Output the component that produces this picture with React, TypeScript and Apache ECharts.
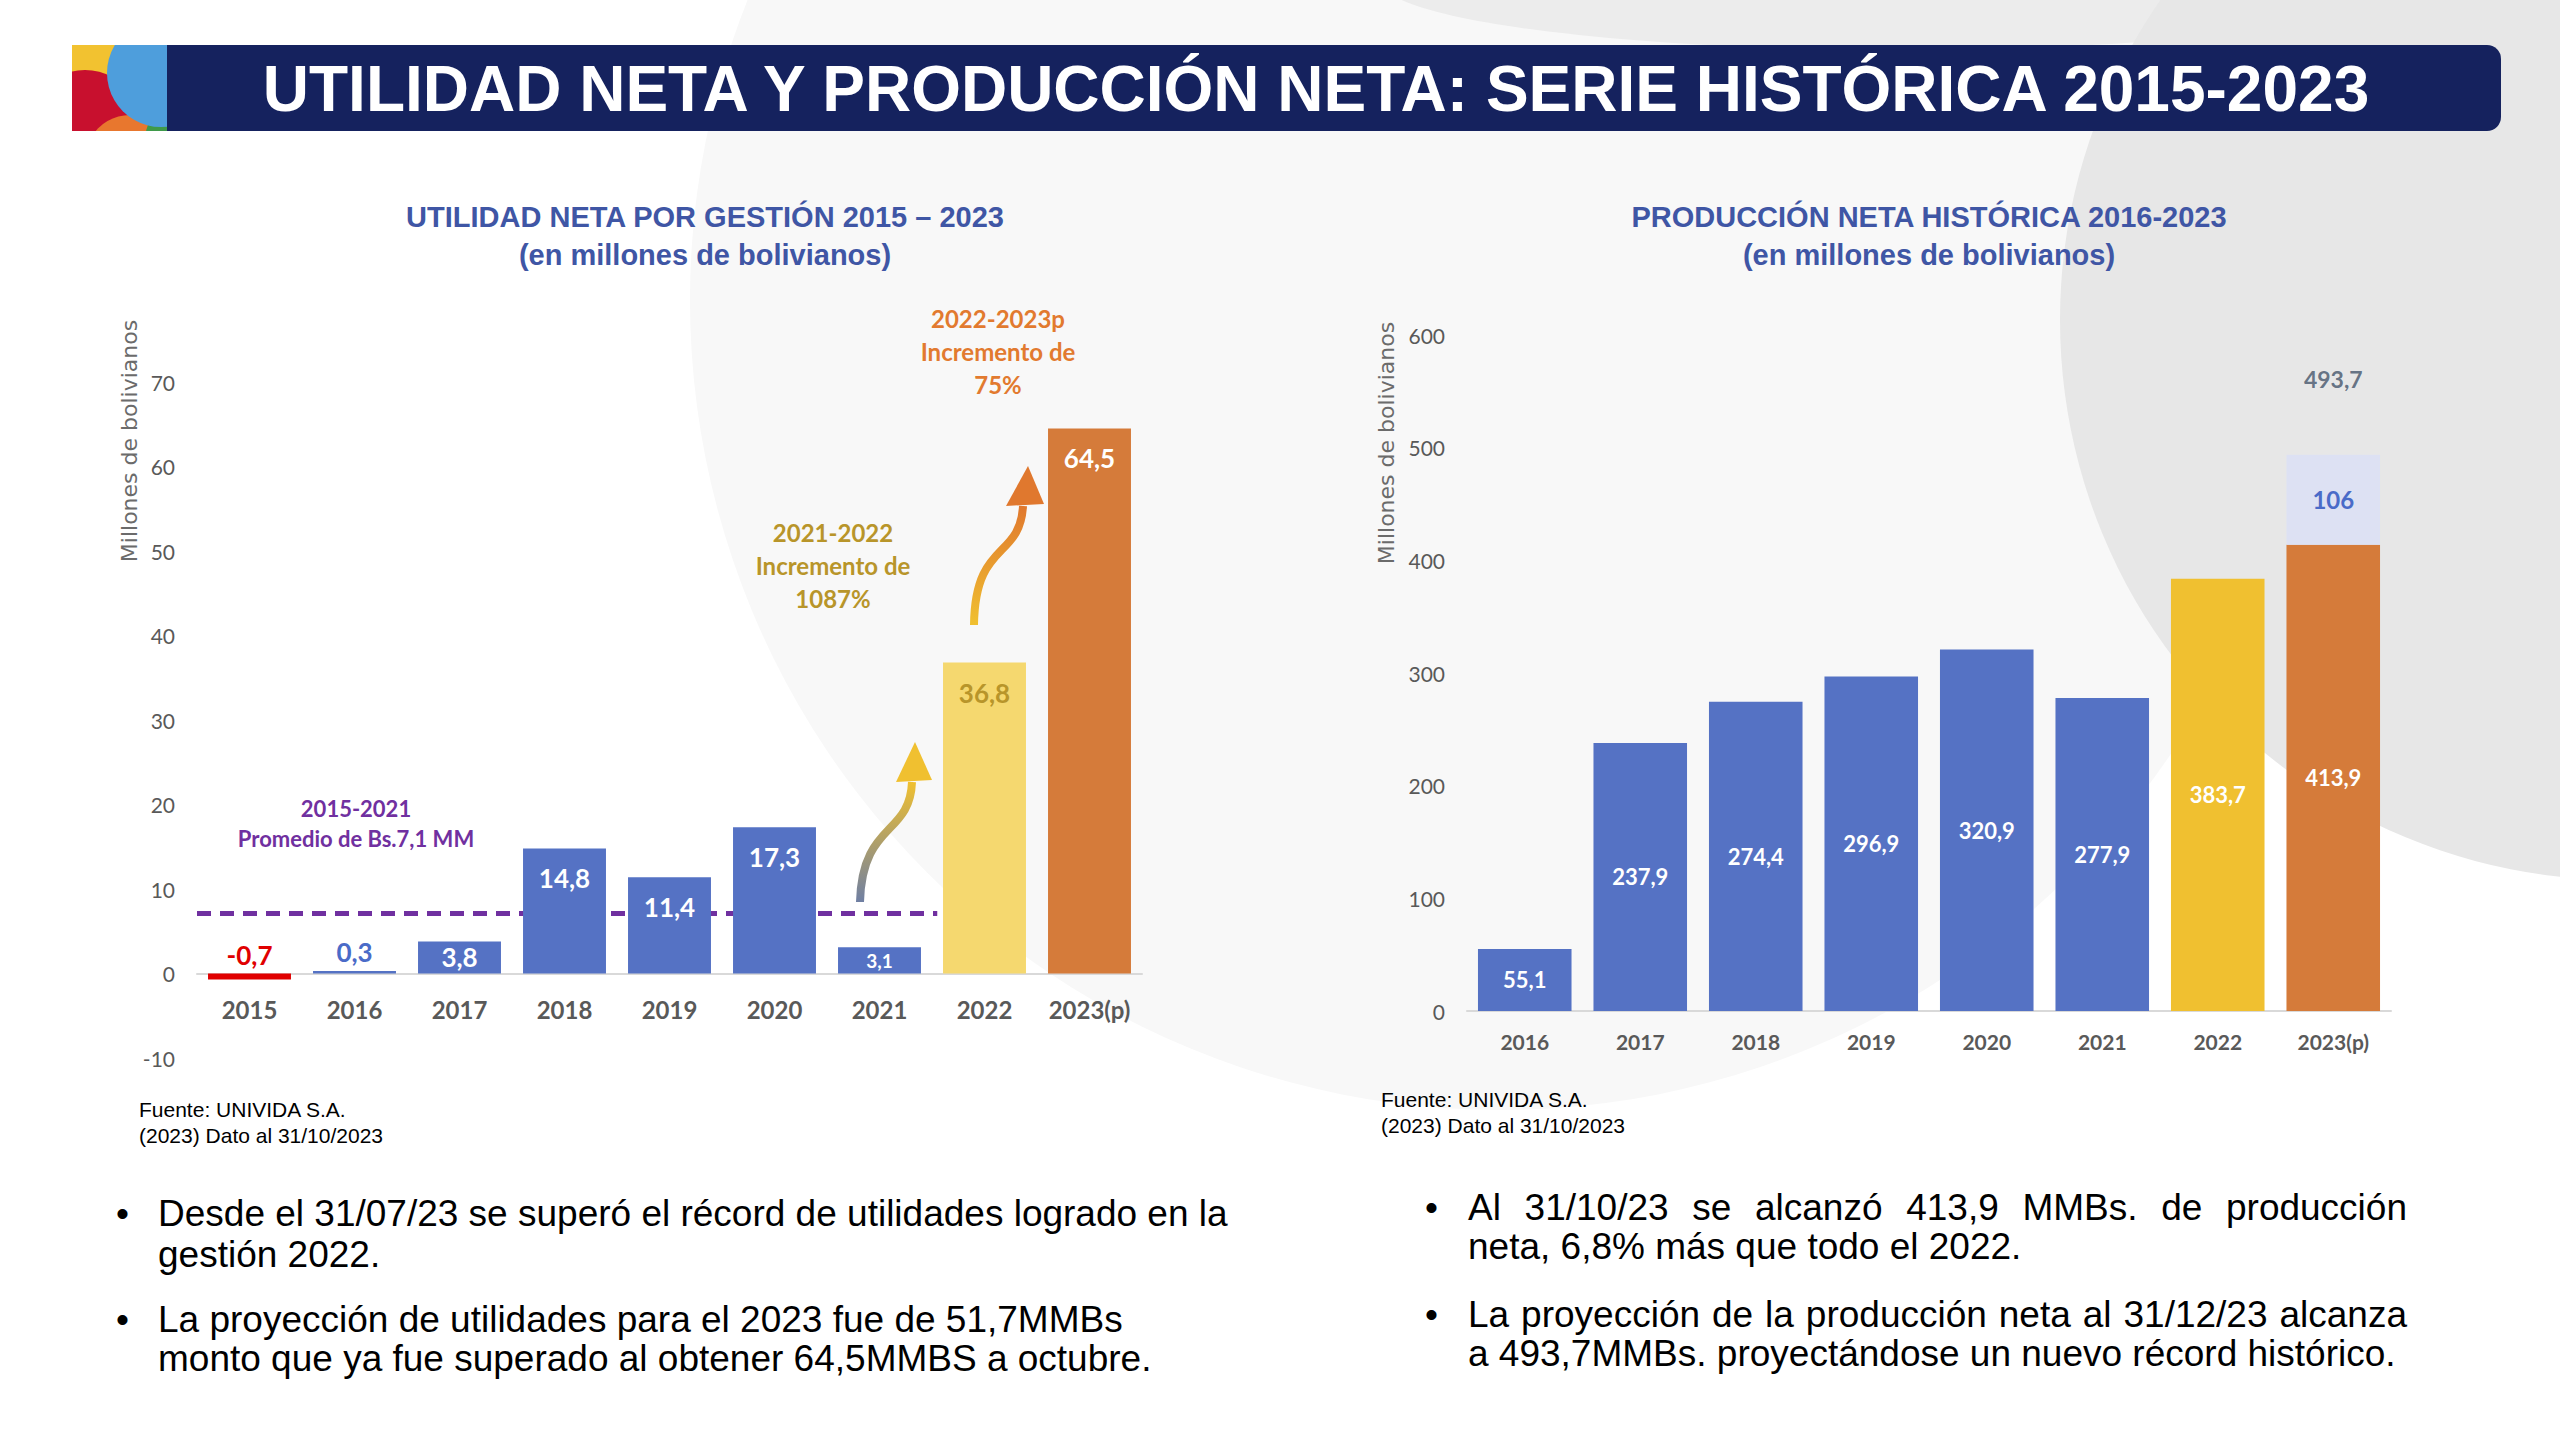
import React, { useEffect, useRef } from "react";
import * as echarts from "echarts";

// ---------- DATA ----------
const pageTitle = "UTILIDAD NETA Y PRODUCCIÓN NETA: SERIE HISTÓRICA 2015-2023";

const utilTitle = "UTILIDAD NETA POR GESTIÓN 2015 – 2023\n(en millones de bolivianos)";
const utilCategories = ["2015", "2016", "2017", "2018", "2019", "2020", "2021", "2022", "2023(p)"];
const utilValues = [-0.7, 0.3, 3.8, 14.8, 11.4, 17.3, 3.1, 36.8, 64.5];
const utilAxisMin = -10;
const utilAxisMax = 70;
const utilAxisStep = 10;
const utilAverage = 7.1;
const utilAverageSpan = [0, 7.05]; // in category bands, 2015 start -> just past 2021

const prodTitle = "PRODUCCIÓN NETA HISTÓRICA 2016-2023\n(en millones de bolivianos)";
const prodCategories = ["2016", "2017", "2018", "2019", "2020", "2021", "2022", "2023(p)"];
const prodValues = [55.1, 237.9, 274.4, 296.9, 320.9, 277.9, 383.7, 413.9];
const prodProjectedTotal = 493.7;
const prodProjectedLabel = "106";
const prodAxisMin = 0;
const prodAxisMax = 600;
const prodAxisStep = 100;

const axisName = "Millones de bolivianos";
const sourceText = "Fuente: UNIVIDA S.A.\n(2023) Dato al 31/10/2023";

const noteAverage = "2015-2021\nPromedio de Bs.7,1 MM";
const note2122 = "2021-2022\nIncremento de\n1087%";
const note2223 = "2022-2023p\nIncremento de\n75%";

const leftBullets = [
  ["Desde el 31/07/23 se superó el récord de utilidades logrado en la", "gestión 2022."],
  ["La proyección de utilidades para el 2023 fue de 51,7MMBs", "monto que ya fue superado al obtener 64,5MMBS a octubre."],
];
const rightBullets = [
  ["Al 31/10/23 se alcanzó 413,9 MMBs. de producción", "neta, 6,8% más que todo el 2022."],
  ["La proyección de la producción neta al 31/12/23 alcanza", "a 493,7MMBs. proyectándose un nuevo récord histórico."],
];

// ---------- STYLE ----------
const BLUE = "#5572c4";
const TITLE_BLUE = "#3f56a5";
const AXIS_GRAY = "#595959";
const LABEL_FONT = "Lato, 'Noto Sans', sans-serif";
const ARIAL = "'Liberation Sans', Arial, sans-serif";

const fmt = (v: number) => v.toFixed(1).replace(".", ",");

let measureCtx: CanvasRenderingContext2D | null = null;
function measure(text: string, font: string) {
  if (!measureCtx) measureCtx = document.createElement("canvas").getContext("2d");
  measureCtx!.font = font;
  return measureCtx!.measureText(text).width;
}

function txt(x: number, y: number, text: string, font: string, fill: string, extra: any = {}) {
  const align = extra.align || "left";
  return {
    type: "text",
    x,
    y,
    z: 20,
    rotation: extra.rotation || 0,
    style: {
      text,
      font,
      fill,
      align,
      textAlign: align,
      verticalAlign: "middle",
      textVerticalAlign: "middle",
      lineHeight: extra.lineHeight,
    },
  };
}

function justified(text: string, x: number, y: number, width: number, font: string, fill: string) {
  const words = text.split(" ");
  const ws = words.map((w) => measure(w, font));
  const total = ws.reduce((a, b) => a + b, 0);
  const gap = (width - total) / (words.length - 1);
  let cx = x;
  return words.map((w, i) => {
    const el = txt(cx, y, w, font, fill);
    cx += ws[i] + gap;
    return el;
  });
}

function utilItemColor(i: number, v: number) {
  if (v < 0) return "#e00000";
  if (i === utilValues.length - 2) return "#f5d86f";
  if (i === utilValues.length - 1) return "#d57b3a";
  return BLUE;
}

function utilItemLabel(i: number, v: number) {
  const base = { show: true, fontFamily: LABEL_FONT, fontWeight: "bold", fontSize: 26, formatter: () => fmt(v) };
  if (v < 0) return { ...base, position: "top", distance: 6, color: "#e00000" };
  if (v < 1) return { ...base, position: "top", distance: 6, color: "#4a6bc8" };
  if (v < 5) return { ...base, position: "inside", color: "#ffffff", fontSize: i === 6 ? 19 : 26 };
  return { ...base, position: "insideTop", distance: 17, color: i === utilValues.length - 2 ? "#b8952a" : "#ffffff" };
}

function prodItemColor(i: number) {
  if (i === prodValues.length - 2) return "#f0c030";
  if (i === prodValues.length - 1) return "#d57b3a";
  return BLUE;
}

function buildOption() {
  const last = prodCategories.length - 1;
  const bodyFont = `37px ${ARIAL}`;
  const graphics: any[] = [];

  // background shapes
  graphics.push({ type: "circle", z: 0, shape: { cx: 1500, cy: 300, r: 810 }, style: { fill: "#f8f8f8" } });
  graphics.push({ type: "ellipse", z: 0, shape: { cx: 1900, cy: -20, rx: 520, ry: 70 }, style: { fill: "#ececec" } });
  graphics.push({ type: "circle", z: 0, shape: { cx: 2620, cy: 320, r: 560 }, style: { fill: "#e7e7e7" } });

  // logo
  graphics.push({ type: "rect", z: 1, shape: { x: 72, y: 45, width: 95, height: 86 }, style: { fill: "#f2c230" } });
  graphics.push({ type: "circle", z: 1, shape: { cx: 85, cy: 125, r: 55 }, style: { fill: "#c8102e" } });
  graphics.push({ type: "circle", z: 1, shape: { cx: 130, cy: 160, r: 45 }, style: { fill: "#e8772e" } });
  graphics.push({ type: "circle", z: 1, shape: { cx: 185, cy: 140, r: 40 }, style: { fill: "#3f9a4a" } });
  graphics.push({ type: "circle", z: 1, shape: { cx: 161, cy: 73, r: 54 }, style: { fill: "#4e9edc" } });
  graphics.push({ type: "rect", z: 3, shape: { x: 0, y: 0, width: 72, height: 240 }, style: { fill: "#ffffff" } });
  graphics.push({ type: "rect", z: 3, shape: { x: 0, y: 0, width: 250, height: 45 }, style: { fill: "#ffffff" } });
  graphics.push({ type: "rect", z: 3, shape: { x: 0, y: 131, width: 250, height: 100 }, style: { fill: "#ffffff" } });

  // header bar
  graphics.push({ type: "rect", z: 4, shape: { x: 167, y: 45, width: 2334, height: 86, r: [0, 14, 14, 0] }, style: { fill: "#15225e" } });
  graphics.push(txt(1316, 89, pageTitle, `bold 64px ${ARIAL}`, "#ffffff", { align: "center" }));

  // chart titles
  graphics.push(txt(705, 236, utilTitle, `bold 29px ${ARIAL}`, TITLE_BLUE, { align: "center", lineHeight: 38 }));
  graphics.push(txt(1929, 236, prodTitle, `bold 29px ${ARIAL}`, TITLE_BLUE, { align: "center", lineHeight: 38 }));

  // axis names
  graphics.push(txt(129, 441, axisName, `22px 'DejaVu Sans', Verdana, sans-serif`, "#6b6b6b", { align: "center", rotation: Math.PI / 2 }));
  graphics.push(txt(1386, 443, axisName, `22px 'DejaVu Sans', Verdana, sans-serif`, "#6b6b6b", { align: "center", rotation: Math.PI / 2 }));

  // annotations
  graphics.push(txt(356, 823, noteAverage, `bold 22px ${LABEL_FONT}`, "#7030a0", { align: "center", lineHeight: 30 }));
  graphics.push(txt(833, 565, note2122, `bold 24px ${LABEL_FONT}`, "#b8952a", { align: "center", lineHeight: 33 }));
  graphics.push(txt(998, 351, note2223, `bold 24px ${LABEL_FONT}`, "#e27a2f", { align: "center", lineHeight: 33 }));

  // arrows
  const arrow = (p: number[], tip: number[], baseL: number[], baseR: number[], c0: string, c1: string) => {
    graphics.push({
      type: "bezierCurve",
      z: 5,
      shape: { x1: p[0], y1: p[1], cpx1: p[2], cpy1: p[3], cpx2: p[4], cpy2: p[5], x2: p[6], y2: p[7] },
      style: {
        fill: "none",
        lineWidth: 8,
        stroke: new echarts.graphic.LinearGradient(0, 1, 0, 0, [
          { offset: 0, color: c0 },
          { offset: 1, color: c1 },
        ]),
      },
    });
    graphics.push({ type: "polygon", z: 5, shape: { points: [tip, baseL, baseR] }, style: { fill: c1 } });
  };
  arrow([860, 902, 862, 822, 910, 836, 912, 782], [915, 742], [896, 782], [932, 780], "#6f7fa3", "#f0c030");
  arrow([974, 625, 975, 540, 1020, 560, 1023, 506], [1028, 466], [1006, 506], [1044, 504], "#f0c030", "#e0782e");

  // sources
  graphics.push(txt(139, 1122, sourceText, `21px ${ARIAL}`, "#000000", { lineHeight: 26 }));
  graphics.push(txt(1381, 1112, sourceText, `21px ${ARIAL}`, "#000000", { lineHeight: 26 }));

  // bullets left
  const leftYs = [[1213, 1254], [1319, 1358]];
  leftBullets.forEach((lines, k) => {
    graphics.push(txt(116, leftYs[k][0], "•", bodyFont, "#000000"));
    lines.forEach((l, j) => graphics.push(txt(158, leftYs[k][j], l, bodyFont, "#000000")));
  });
  // bullets right (justified)
  const rightYs = [[1207, 1246], [1314, 1353]];
  rightBullets.forEach((lines, k) => {
    graphics.push(txt(1425, rightYs[k][0], "•", bodyFont, "#000000"));
    graphics.push(...justified(lines[0], 1468, rightYs[k][0], 939, bodyFont, "#000000"));
    graphics.push(txt(1468, rightYs[k][1], lines[1], bodyFont, "#000000"));
  });

  const catLabel = (size: number, margin: number) => ({
    interval: 0,
    fontFamily: LABEL_FONT,
    fontWeight: "bold",
    fontSize: size,
    color: AXIS_GRAY,
    margin,
  });
  const valLabel = { fontFamily: LABEL_FONT, fontSize: 21, color: AXIS_GRAY, margin: 22 };
  const leftGrid = { left: 197, width: 945, top: 382, height: 676 };

  return {
    animation: false,
    backgroundColor: "#ffffff",
    graphic: { elements: graphics },
    grid: [leftGrid, { left: 1467, width: 924, top: 335, height: 676 }, leftGrid],
    xAxis: [
      {
        type: "category",
        gridIndex: 0,
        data: utilCategories,
        axisLine: { onZero: true, lineStyle: { color: "#d9d9d9", width: 2 } },
        axisTick: { show: false },
        // labels sit just under the zero line, which lies above the grid's bottom edge
        axisLabel: catLabel(24, -61),
      },
      {
        type: "category",
        gridIndex: 1,
        data: prodCategories,
        axisLine: { lineStyle: { color: "#d9d9d9", width: 2 } },
        axisTick: { show: false },
        axisLabel: catLabel(21, 20),
      },
      { type: "value", gridIndex: 2, min: 0, max: utilCategories.length, show: false },
    ],
    yAxis: [
      {
        type: "value",
        gridIndex: 0,
        min: utilAxisMin,
        max: utilAxisMax,
        interval: utilAxisStep,
        splitLine: { show: false },
        axisLine: { show: false },
        axisTick: { show: false },
        axisLabel: valLabel,
      },
      {
        type: "value",
        gridIndex: 1,
        min: prodAxisMin,
        max: prodAxisMax,
        interval: prodAxisStep,
        splitLine: { show: false },
        axisLine: { show: false },
        axisTick: { show: false },
        axisLabel: valLabel,
      },
      { type: "value", gridIndex: 2, min: utilAxisMin, max: utilAxisMax, show: false },
    ],
    series: [
      {
        type: "line",
        xAxisIndex: 2,
        yAxisIndex: 2,
        z: 1,
        showSymbol: false,
        symbol: "none",
        data: utilAverageSpan.map((x) => [x, utilAverage]),
        lineStyle: { color: "#7030a0", width: 5, type: [14, 9] },
      },
      {
        type: "bar",
        xAxisIndex: 0,
        yAxisIndex: 0,
        barCategoryGap: "21%",
        z: 2,
        data: utilValues.map((v, i) => ({
          value: v,
          itemStyle: { color: utilItemColor(i, v) },
          label: utilItemLabel(i, v),
        })),
      },
      {
        type: "bar",
        xAxisIndex: 1,
        yAxisIndex: 1,
        stack: "prod",
        barCategoryGap: "19%",
        data: prodValues.map((v, i) => ({ value: v, itemStyle: { color: prodItemColor(i) } })),
        label: {
          show: true,
          position: "inside",
          color: "#ffffff",
          fontFamily: LABEL_FONT,
          fontWeight: "bold",
          fontSize: 22,
          formatter: (p: any) => fmt(p.value),
        },
      },
      {
        type: "bar",
        xAxisIndex: 1,
        yAxisIndex: 1,
        stack: "prod",
        barCategoryGap: "19%",
        data: prodCategories.map((_, i) => (i === last ? +(prodProjectedTotal - prodValues[last]).toFixed(1) : null)),
        itemStyle: { color: "#dde1f3" },
        label: {
          show: true,
          position: "inside",
          color: "#4a6bc8",
          fontFamily: LABEL_FONT,
          fontWeight: "bold",
          fontSize: 24,
          formatter: () => prodProjectedLabel,
        },
      },
      {
        type: "scatter",
        xAxisIndex: 1,
        yAxisIndex: 1,
        symbolSize: 0,
        data: [[prodCategories[last], prodProjectedTotal]],
        label: {
          show: true,
          position: "top",
          distance: 64,
          color: "#44546a",
          fontFamily: LABEL_FONT,
          fontWeight: "bold",
          fontSize: 23,
          formatter: (p: any) => fmt(p.value[1]),
        },
      },
    ],
  };
}

export default function App() {
  const ref = useRef<HTMLDivElement>(null);
  useEffect(() => {
    if (!ref.current) return;
    const chart = echarts.init(ref.current, null, { renderer: "svg", width: 2560, height: 1440 });
    chart.setOption(buildOption() as any);
    return () => chart.dispose();
  }, []);
  return (
    <div
      ref={ref}
      style={{ position: "fixed", left: 0, top: 0, width: 2560, height: 1440, background: "#ffffff" }}
    />
  );
}
